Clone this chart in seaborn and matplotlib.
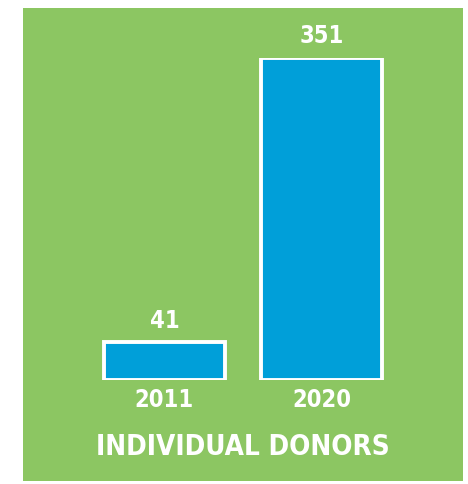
import matplotlib
matplotlib.use("Agg")
import matplotlib.pyplot as plt
import pandas as pd
import seaborn as sns

years = ["2011", "2020"]
donors = [41, 351]
title = "INDIVIDUAL DONORS"

GREEN = "#8CC662"
BLUE = "#009FD9"

sns.set_theme(style="white")
plt.rcParams["font.family"] = ["DejaVu Sans"]
plt.rcParams["font.stretch"] = "condensed"

W, H = 468, 484
fig = plt.figure(figsize=(W / 100, H / 100), dpi=100)
fig.patch.set_facecolor("white")

# green panel as a background axes
bg = fig.add_axes([23 / W, 1 - 481 / H, 440 / W, 473 / H], zorder=0)
bg.set_facecolor(GREEN)
bg.set_xticks([])
bg.set_yticks([])
for s in bg.spines.values():
    s.set_visible(False)

# bars: bottom at y=380 px, 351 at y=58 px
ax = fig.add_axes([86 / W, 1 - 380 / H, 314 / W, 322 / H], zorder=1)
ax.set_facecolor("none")

df = pd.DataFrame({"year": years, "donors": donors})
sns.barplot(data=df, x="year", y="donors", ax=ax, color=BLUE, width=0.77,
            edgecolor="white", linewidth=2.8, saturation=1)
ax.set_xlim(-0.5, 1.5)
ax.set_ylim(0, 351)
for s in ax.spines.values():
    s.set_visible(False)
ax.set_yticks([])
ax.set_xlabel("")
ax.set_ylabel("")
ax.tick_params(axis="x", length=0, pad=6, labelsize=17, labelcolor="white")
for lab in ax.get_xticklabels():
    lab.set_fontweight("bold")

for i, v in enumerate(donors):
    ax.annotate(str(v), (i, v), xytext=(0, 7), textcoords="offset points",
                ha="center", va="bottom", color="white", fontsize=17,
                fontweight="bold")

ax.text(243 / W, 1 - 447 / H, title, transform=fig.transFigure, ha="center",
        va="center", color="white", fontsize=20, fontweight="bold")

fig.savefig("out.png", dpi=100, facecolor="white")
